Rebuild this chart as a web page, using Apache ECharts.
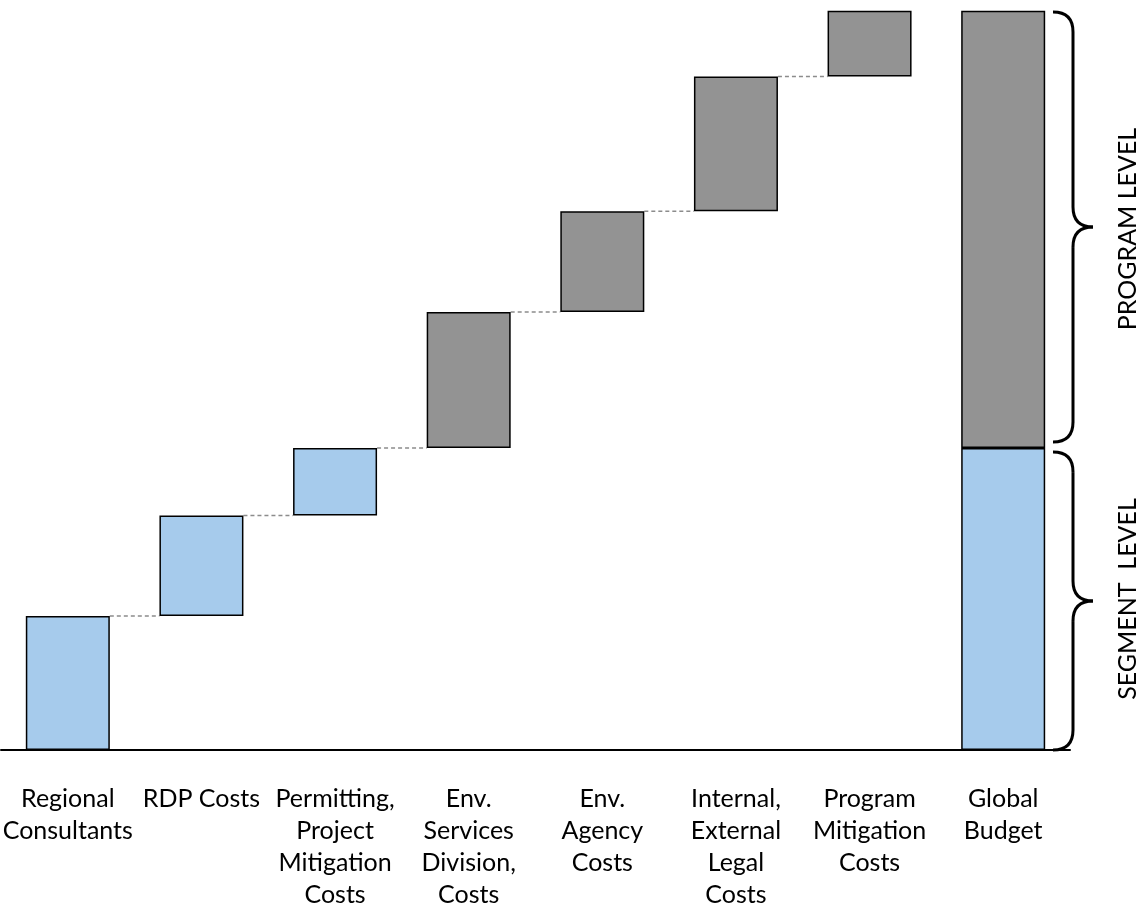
<!DOCTYPE html>
<html>
<head>
<meta charset="utf-8">
<script src="https://cdn.jsdelivr.net/npm/echarts@6/dist/echarts.min.js"></script>
<style>
  html, body { margin: 0; padding: 0; background: #fff; }
  #main { width: 1147px; height: 907px; }
</style>
</head>
<body>
<div id="main"></div>
<script>
// categories (x axis)
var categories = ["Regional\nConsultants", "RDP Costs", "Permitting,\nProject\nMitigation\nCosts",
    "Env.\nServices\nDivision,\nCosts", "Env.\nAgency\nCosts", "Internal,\nExternal\nLegal\nCosts",
    "Program\nMitigation\nCosts", "Global\nBudget"];

// step sizes (share of global budget, %)
var segmentSteps = [18.1, 13.6, 9.1];            // blue, segment level
var programSteps = [18.4, 13.6, 18.2, 8.9];      // gray, program level

var segmentTotal = segmentSteps.reduce(function (a, b) { return a + b; }, 0);
var programTotal = programSteps.reduce(function (a, b) { return a + b; }, 0);

// build waterfall series: invisible base + blue + gray
var allSteps = segmentSteps.concat(programSteps);
var baseData = [], blueData = [], grayData = [], stepTops = [];
var run = 0;
for (var i = 0; i < allSteps.length; i++) {
    baseData.push(run);
    if (i < segmentSteps.length) {
        blueData.push(allSteps[i]);
        grayData.push('-');
    } else {
        blueData.push('-');
        grayData.push(allSteps[i]);
    }
    run += allSteps[i];
    stepTops.push([i, run]);
}
// global budget bar
baseData.push(0);
blueData.push(segmentTotal);
grayData.push(programTotal);

var connectors = stepTops.slice(0, stepTops.length - 1); // dashed lines between steps
var BAR_W = 84;

var myChart = echarts.init(document.getElementById('main'));

var option = {
    animation: false,
    grid: { left: 1, right: 77, top: 10, bottom: 157, outerBoundsMode: 'none', containLabel: false },
    xAxis: {
        type: 'category',
        data: categories,
        axisLine: { lineStyle: { color: '#000', width: 2 } },
        axisTick: { show: false },
        axisLabel: {
            interval: 0,
            margin: 33,
            color: '#000',
            fontFamily: 'Lato',
            fontSize: 25,
            lineHeight: 32,
            align: 'center'
        }
    },
    yAxis: {
        type: 'value',
        min: 0,
        max: 100,
        show: false
    },
    series: [
        {
            name: 'base',
            type: 'bar',
            stack: 'w',
            barWidth: BAR_W,
            itemStyle: { color: 'transparent', borderColor: 'transparent' },
            data: baseData
        },
        {
            name: 'segment',
            type: 'bar',
            stack: 'w',
            barWidth: BAR_W,
            itemStyle: { color: '#a6cbec', borderColor: '#000', borderWidth: 1.5 },
            data: blueData
        },
        {
            name: 'program',
            type: 'bar',
            stack: 'w',
            barWidth: BAR_W,
            itemStyle: { color: '#939393', borderColor: '#000', borderWidth: 1.5 },
            data: grayData
        },
        {
            name: 'connector',
            type: 'custom',
            z: 1,
            renderItem: function (params, api) {
                var p = api.coord([api.value(0), api.value(1)]);
                var bw = api.size([1, 0])[0];
                return {
                    type: 'line',
                    shape: { x1: p[0] + BAR_W / 2, y1: p[1], x2: p[0] + bw - BAR_W / 2, y2: p[1] },
                    style: { stroke: '#8c8c8c', lineWidth: 1.5, lineDash: [4, 3] }
                };
            },
            data: connectors
        }
    ]
};
myChart.setOption(option);

// braces + level labels on the right (curly bracket from 4 curves + 2 lines)
var braceStyle = { fill: null, stroke: '#000', lineWidth: 3 };
function brace(x0, y0, y1) {
    var x1 = x0 + 20, x2 = x0 + 40, r = 20;
    var mid = (y0 + y1) / 2;
    return [
        { type: 'bezierCurve', shape: { x1: x0, y1: y0, cpx1: x1, cpy1: y0, x2: x1, y2: y0 + r }, style: braceStyle },
        { type: 'line', shape: { x1: x1, y1: y0 + r, x2: x1, y2: mid - r }, style: braceStyle },
        { type: 'bezierCurve', shape: { x1: x1, y1: mid - r, cpx1: x1, cpy1: mid, x2: x2, y2: mid }, style: braceStyle },
        { type: 'bezierCurve', shape: { x1: x2, y1: mid, cpx1: x1, cpy1: mid, x2: x1, y2: mid + r }, style: braceStyle },
        { type: 'line', shape: { x1: x1, y1: mid + r, x2: x1, y2: y1 - r }, style: braceStyle },
        { type: 'bezierCurve', shape: { x1: x1, y1: y1 - r, cpx1: x1, cpy1: y1, x2: x0, y2: y1 }, style: braceStyle }
    ];
}
var yTop = myChart.convertToPixel({ yAxisIndex: 0 }, 100);
var ySeg = myChart.convertToPixel({ yAxisIndex: 0 }, segmentTotal);
var yBase = myChart.convertToPixel({ yAxisIndex: 0 }, 0);
var bx = 1053;
var graphics = brace(bx, yTop + 2, ySeg - 6).concat(brace(bx, ySeg + 4, yBase));
graphics.push(
    { type: 'text', x: 1128, y: (yTop + ySeg) / 2, rotation: Math.PI / 2,
      style: { text: 'PROGRAM LEVEL', fill: '#000', font: '25px Lato', align: 'center', verticalAlign: 'middle' } },
    { type: 'text', x: 1128, y: (ySeg + yBase) / 2, rotation: Math.PI / 2,
      style: { text: 'SEGMENT  LEVEL', fill: '#000', font: '25px Lato', align: 'center', verticalAlign: 'middle' } }
);
myChart.setOption({ graphic: graphics });
window.onresize = myChart.resize;
</script>
</body>
</html>
